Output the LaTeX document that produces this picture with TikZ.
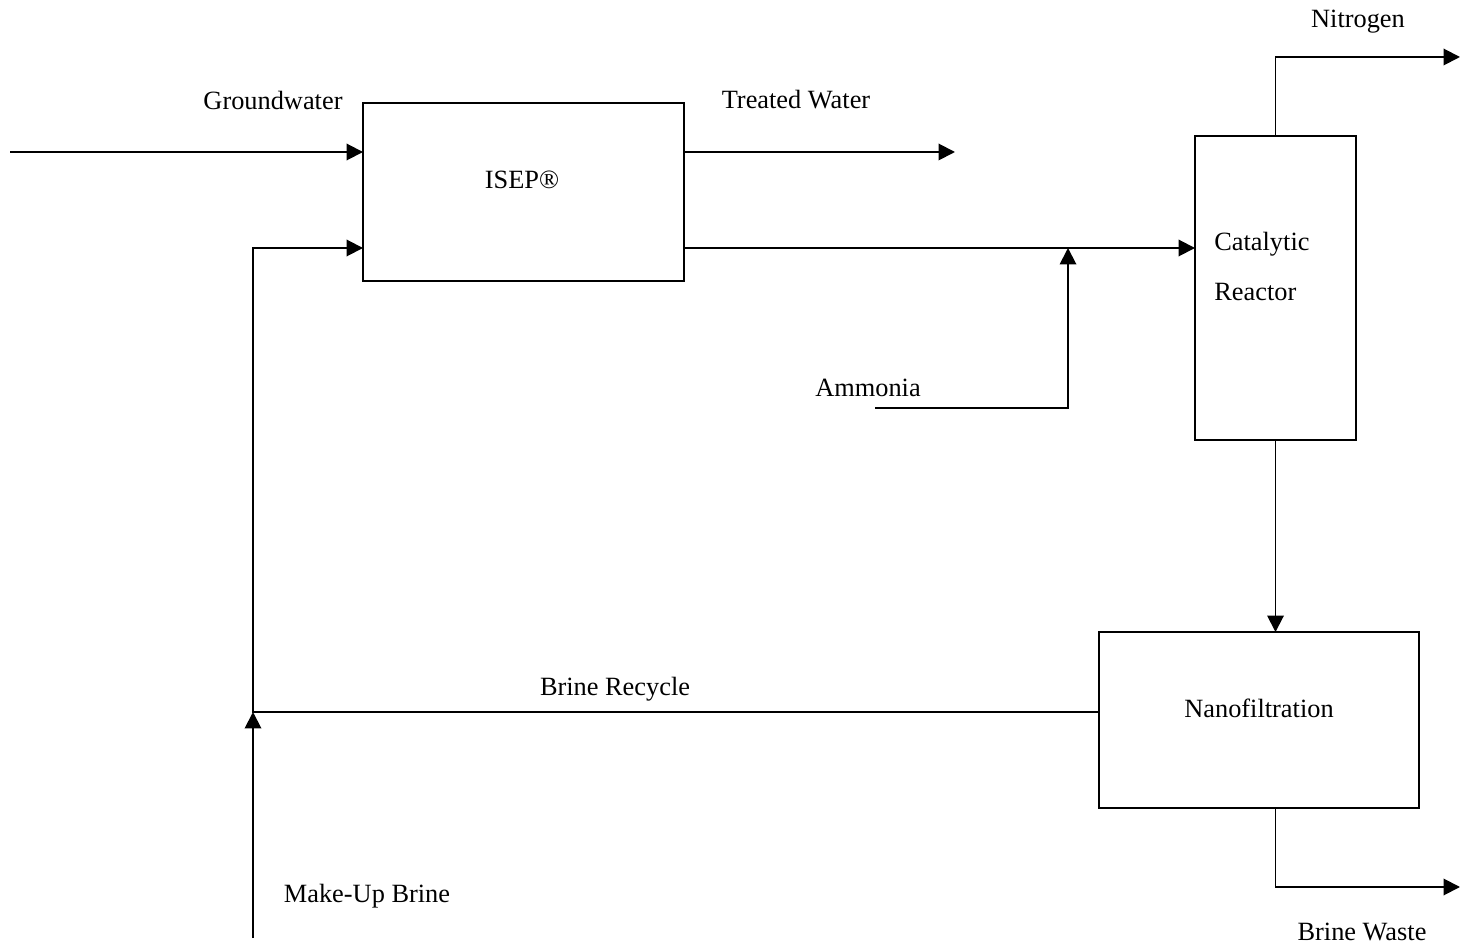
\documentclass[tikz,border=0pt]{standalone}
\usepackage{fontspec}
\setmainfont{Liberation Serif}
\usetikzlibrary{arrows.meta}
\tikzset{
  unit/.style={draw, line width=1.1pt, inner sep=0pt, outer sep=0pt},
  flow/.style={line width=1.1pt, -{Triangle[length=0.33cm,width=0.33cm]}},
  pipe/.style={line width=1.1pt},
  lbl/.style={inner sep=0pt, font=\fontsize{15}{18}\selectfont}
}
\begin{document}
\begin{tikzpicture}[x=0.02cm, y=-0.02cm]
    \useasboundingbox (0,0) rectangle (1461,952);
    % units
    \node[unit, minimum width=6.42cm, minimum height=3.56cm] (isep) at (523.5,192) {};
    \node[unit, minimum width=3.22cm, minimum height=6.08cm] (reactor) at (1275.5,288) {};
    \node[unit, minimum width=6.40cm, minimum height=3.52cm] (nano) at (1259,720) {};
    \node[lbl] (isepl) at (522,180) {ISEP®};
    \node[lbl, anchor=west] (catl) at (1214,244) {Catalytic};
    \node[lbl, anchor=west] (reacl) at (1214,292) {Reactor};
    \node[lbl] (nanol) at (1259,708) {Nanofiltration};
    % stream labels
    \node[lbl] (gwl) at (273,100) {Groundwater};
    \node[lbl] (twl) at (796,100) {Treated Water};
    \node[lbl] (amml) at (868,388) {Ammonia};
    \node[lbl] (n2l) at (1358,22) {Nitrogen};
    \node[lbl] (brl) at (615,689) {Brine Recycle};
    \node[lbl] (mul) at (367,896) {Make-Up Brine};
    \node[lbl] (bwl) at (1362,932) {Brine Waste};
    % stream ends
    \coordinate (gw) at (10,152);
    \coordinate (tw) at (955,152);
    \coordinate (mix) at (1068,248);
    \coordinate (amm) at (875,408);
    \coordinate (n2) at (1460,57);
    \coordinate (tee) at (253,712);
    \coordinate (mu) at (253,938);
    \coordinate (bw) at (1460,887);
    % streams
    \draw[flow] (gw) -- (isep.west |- gw);
    \draw[flow] (isep.east |- tw) -- (tw);
    \draw[flow] (isep.east |- mix) -- (reactor.west |- mix);
    \draw[flow] (amm) -| (mix);
    \draw[flow] (reactor.north) |- (n2);
    \draw[flow] (reactor.south) -- (reactor.south |- nano.north);
    \draw[flow] (nano.west |- tee) -- (tee) |- (isep.west |- mix);
    \draw[flow] (mu) -- (tee);
    \draw[flow] (reactor.south |- nano.south) |- (bw);
\end{tikzpicture}
\end{document}
